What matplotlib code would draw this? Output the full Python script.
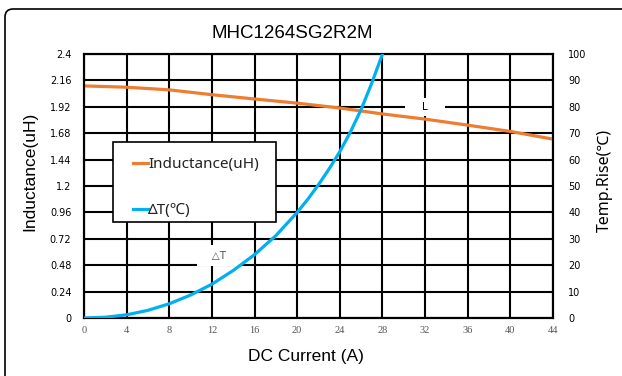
"""Inductance and temperature rise vs DC current for MHC1264SG2R2M."""

import matplotlib

matplotlib.use("Agg")
import matplotlib.pyplot as plt
from matplotlib.patches import FancyBboxPatch, Rectangle
from matplotlib.transforms import IdentityTransform

# --- data ---
current = [0, 4, 8, 12, 16, 20, 24, 28, 32, 36, 40, 44]
inductance = [2.110, 2.098, 2.074, 2.030, 1.991, 1.953, 1.909, 1.855, 1.808, 1.753, 1.696, 1.626]

temp_current = [0, 2, 4, 6, 8, 10, 12, 14, 16, 18, 20, 21, 22, 23, 24, 25, 26, 27, 28]
temp_rise = [0, 0.3, 1.2, 2.9, 5.4, 8.7, 12.8, 18.0, 24.0, 31.2, 40, 45, 50.5, 56.5, 63, 70.5, 79, 89, 100]

x_ticks = [0, 4, 8, 12, 16, 20, 24, 28, 32, 36, 40, 44]
l_ticks = [0, 0.24, 0.48, 0.72, 0.96, 1.2, 1.44, 1.68, 1.92, 2.16, 2.4]
l_tick_labels = ["0", "0.24", "0.48", "0.72", "0.96", "1.2", "1.44", "1.68", "1.92", "2.16", "2.4"]
t_ticks = [0, 10, 20, 30, 40, 50, 60, 70, 80, 90, 100]

ORANGE = "#ED7D31"
BLUE = "#00B0F0"
W, H = 622, 376

fig = plt.figure(figsize=(W / 100, H / 100), dpi=100)
fig.subplots_adjust(left=84 / W, right=553 / W, bottom=(H - 318) / H, top=(H - 54) / H)
ax = fig.add_subplot(111)
ax2 = ax.twinx()

# outer rounded frame (partly runs off the right and bottom edges)
frame = FancyBboxPatch((5, -30), 660, H - 9 + 30, boxstyle="round,pad=0,rounding_size=8",
                       transform=IdentityTransform(), fill=False, edgecolor="black", linewidth=1.2)
fig.patches.append(frame)

ax.set_xlim(0, 44)
ax.set_ylim(0, 2.4)
ax2.set_ylim(0, 100)
ax.set_xticks(x_ticks)
ax.set_yticks(l_ticks)
ax.set_yticklabels(l_tick_labels)
ax2.set_yticks(t_ticks)

ax.grid(True, color="black", linewidth=1.5)
ax.set_axisbelow(True)
for a in (ax, ax2):
    for s in a.spines.values():
        s.set_linewidth(1.5)
        s.set_color("black")

ax.tick_params(axis="y", length=0, pad=9, labelsize=7)
ax.tick_params(axis="x", length=0, pad=6, labelsize=7.5, labelcolor="#555555")
for lbl in ax.get_xticklabels():
    lbl.set_family("Liberation Serif")
ax2.tick_params(axis="y", length=0, pad=11, labelsize=7)

l1, = ax.plot(current, inductance, color=ORANGE, linewidth=2.3, label="Inductance(uH)",
              solid_joinstyle="round", zorder=3)
l2, = ax2.plot(temp_current, temp_rise, color=BLUE, linewidth=2.3, label="ΔT(℃)",
               solid_joinstyle="round", zorder=3)

# curve tags with white backing
ax.text(32, 1.92, "    L    ", ha="center", va="center", fontsize=7.5,
        bbox=dict(facecolor="white", edgecolor="none", pad=3), zorder=2)
ax.text(12.7, 0.565, "   △T   ", ha="center", va="center", fontsize=7.5, color="#555555",
        bbox=dict(facecolor="white", edgecolor="none", pad=4), zorder=2)

fig.text(292 / W, 1 - 33 / H, "MHC1264SG2R2M", ha="center", va="center", fontsize=13.5,
         family="Liberation Sans")
fig.text(306 / W, 1 - 356 / H, "DC Current (A)", ha="center", va="center", fontsize=12.5,
         family="Liberation Sans")
fig.text(30 / W, 1 - 171 / H, "Inductance(uH)", ha="center", va="center", rotation=90,
         fontsize=12.5, family="Liberation Sans")
fig.text(605 / W, 1 - 180 / H, "Temp.Rise(℃)", ha="center", va="center", rotation=90,
         fontsize=11.5, family=["Noto Sans", "DejaVu Sans"])

# legend: own frame box (Excel-style uneven padding), entries drawn without frame
leg_box = Rectangle((113, H - 222), 163, 80, transform=IdentityTransform(),
                    facecolor="white", edgecolor="black", linewidth=1.2, zorder=4)
fig.patches.append(leg_box)
leg = fig.legend(handles=[l1, l2], loc="upper left", bbox_to_anchor=(133 / W, 1 - 157 / H),
                 frameon=False, handlelength=1.0, handletextpad=0.0, borderpad=0,
                 labelspacing=2.05, borderaxespad=0,
                 prop={"family": ["Noto Sans", "DejaVu Sans"], "size": 11})
leg.set_zorder(5)
for t in leg.get_texts():
    t.set_color("#222222")

fig.savefig("out.png", dpi=100)
